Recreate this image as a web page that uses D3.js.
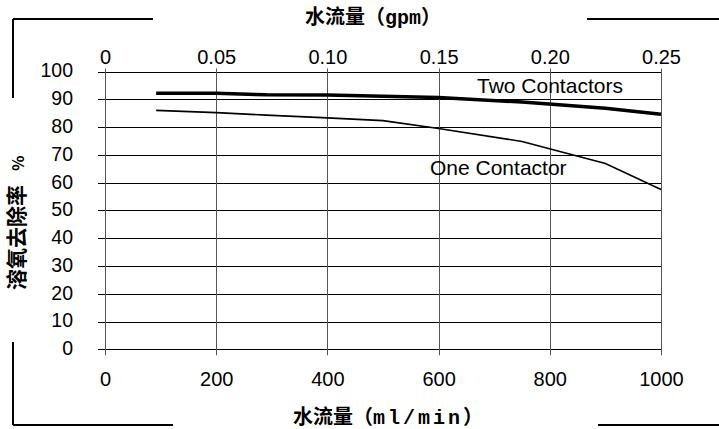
<!DOCTYPE html>
<html><head><meta charset="utf-8">
<script src="https://cdn.jsdelivr.net/npm/d3@7"></script>
<style>body{margin:0;background:#fff}svg{display:block}</style>
</head><body>
<script>
const flowML = [92, 200, 290, 400, 500, 600, 750, 900, 1000];
const twoContactors = [92.2, 92.2, 91.6, 91.5, 91.1, 90.6, 89.0, 86.8, 84.6];
const oneContactor = [86.0, 85.2, 84.3, 83.3, 82.3, 79.5, 74.8, 66.9, 57.5];
const yTicks = [0,10,20,30,40,50,60,70,80,90,100];
const xTicks = [0,200,400,600,800,1000];
const gpmTicks = [0,0.05,0.10,0.15,0.20,0.25];
const gpmLabels = ["0","0.05","0.10","0.15","0.20","0.25"];

const W=719,H=429;
const svg=d3.select("body").append("svg").attr("width",W).attr("height",H);
const x=d3.scaleLinear().domain([0,1000]).range([105,661]);
const xg=d3.scaleLinear().domain([0,0.25]).range([105,661]);
const y=d3.scaleLinear().domain([0,100]).range([349.3,71.5]);
const font="'Liberation Sans', Arial, sans-serif";
const cjk="'Noto Sans CJK SC', sans-serif";
const mono="'Liberation Mono', 'DejaVu Sans Mono', monospace";

// frame corner lines
const frame=[[13,19,153,19],[13,19,13,98],[587,19,719,19],[13,342,13,425],[13,425,173,425],[598,425,719,425]];
svg.selectAll("line.frame").data(frame).join("line").attr("class","frame")
 .attr("x1",d=>d[0]).attr("y1",d=>d[1]).attr("x2",d=>d[2]).attr("y2",d=>d[3])
 .attr("stroke","#000").attr("stroke-width",2);

// left axis labels
const gy=svg.append("g").attr("transform","translate(97,0)");
gy.call(d3.axisLeft(y).tickValues(yTicks).tickSize(0).tickPadding(24));
gy.select(".domain").remove();
gy.selectAll("text").attr("font-family",font).attr("font-size",19.5).attr("fill","#000").attr("dy","0.28em");
// horizontal grid
svg.append("g").selectAll("line").data(yTicks).join("line")
 .attr("x1",98).attr("x2",661).attr("y1",d=>Math.round(y(d))+0.5).attr("y2",d=>Math.round(y(d))+0.5)
 .attr("stroke","#000").attr("stroke-width",1);

// vertical grid
svg.append("g").selectAll("line").data(xTicks).join("line")
 .attr("x1",d=>Math.round(x(d))+0.5).attr("x2",d=>Math.round(x(d))+0.5).attr("y1",y(100)-3).attr("y2",y(0)+6)
 .attr("stroke","#555").attr("stroke-width",1);
// bottom axis labels
const gx=svg.append("g").attr("transform","translate(0,356)");
gx.call(d3.axisBottom(x).tickValues(xTicks).tickSize(0).tickPadding(16).tickFormat(d3.format("d")));
gx.select(".domain").remove();
gx.selectAll("text").attr("font-family",font).attr("font-size",20).attr("fill","#000");

// top axis (gpm)
const gt=svg.append("g").attr("transform","translate(0,70)");
gt.call(d3.axisTop(xg).tickValues(gpmTicks).tickSize(0).tickPadding(6).tickFormat((d,i)=>gpmLabels[i]));
gt.select(".domain").remove();
gt.selectAll("text").attr("font-family",font).attr("font-size",20).attr("fill","#000");

// lines
const line=d3.line().x(d=>x(d[0])).y(d=>y(d[1]));
svg.append("path").datum(flowML.map((f,i)=>[f,twoContactors[i]])).attr("d",line)
 .attr("fill","none").attr("stroke","#000").attr("stroke-width",3.5);
svg.append("path").datum(flowML.map((f,i)=>[f,oneContactor[i]])).attr("d",line)
 .attr("fill","none").attr("stroke","#000").attr("stroke-width",1.6);

// series labels
svg.append("text").attr("x",477).attr("y",93).text("Two Contactors")
 .attr("font-family",font).attr("font-size",21);
svg.append("text").attr("x",430).attr("y",175).text("One Contactor")
 .attr("font-family",font).attr("font-size",21);

// axis titles
const t1=svg.append("text").attr("x",305).attr("y",24)
 .attr("font-family",cjk).attr("font-weight","bold").attr("font-size",20);
t1.append("tspan").text("水流量（");
t1.append("tspan").attr("font-family",mono).text("gpm");
t1.append("tspan").text("）");
const t2=svg.append("text").attr("x",293).attr("y",424)
 .attr("font-family",cjk).attr("font-weight","bold").attr("font-size",20);
t2.append("tspan").text("水流量（");
t2.append("tspan").attr("font-family",mono).attr("letter-spacing",3).text("ml/min");
t2.append("tspan").text("）");
const t3=svg.append("text").attr("transform","translate(24,290) rotate(-90)")
 .attr("font-family",cjk).attr("font-weight","bold").attr("font-size",21);
t3.append("tspan").text("溶氧去除率");
t3.append("tspan").attr("dx",14).attr("font-size",16).text("%");
</script>
</body></html>
